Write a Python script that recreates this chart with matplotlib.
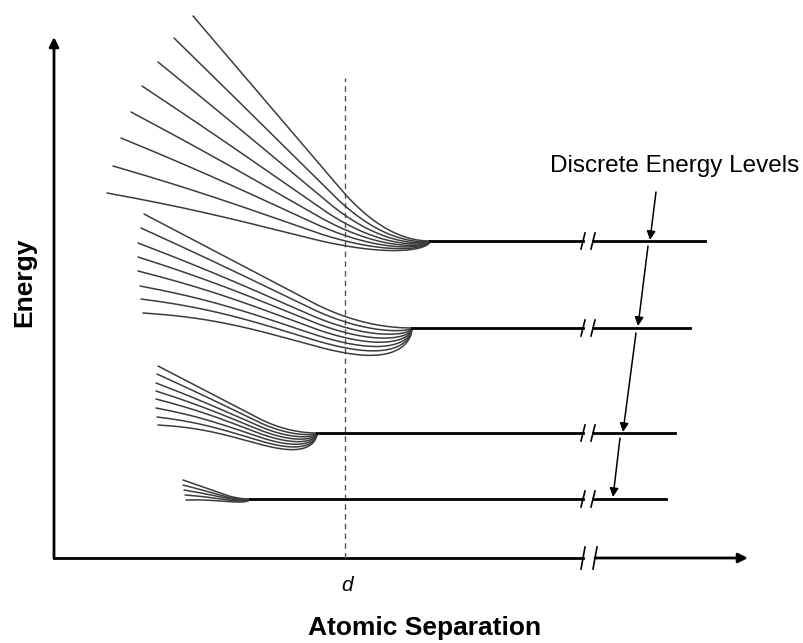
import matplotlib.pyplot as plt
import numpy as np

# energy-band schematic, units: x = atomic separation, E = energy (arbitrary)
level_E = [317, 230, 125, 59]
level_start = [376, 358, 263, 196]    # separation where the band collapses to a level
level_end = [651, 636, 621, 612]
break_x = (529, 539)

band_start_x = [
    [139, 120, 104, 88, 77, 67, 59, 53],
    [90, 87, 84, 84, 84, 86, 87, 89],
    [104, 103, 102, 102, 102, 102, 103, 104],
    [129, 129, 130, 131, 132],
]
band_start_E = [
    [542, 520, 496, 472, 446, 420, 392, 365],
    [344, 330, 315, 301, 287, 272, 259, 245],
    [192, 184, 175, 167, 159, 150, 141, 133],
    [78, 73, 68, 63, 58],
]
band_dip = [11, 28, 17, 3]

d_x = 291
arrow_tails = [(602, 366), (594, 312), (582, 225), (566, 120)]
arrow_heads = [(596, 318), (584, 232), (569, 126), (559, 61)]


def fan_line(x0, e0, xc, ec, dip, knee=0.62, p=2.5):
    u = np.linspace(0, 1, 300)
    # straight run, then a parabola that meets the level flat
    s = 2 / (1 + knee)
    a = 1 - s * knee
    f = np.where(u < knee, 1 - s * u, a * ((1 - u) / (1 - knee))**2)
    # dip below the level that hooks back up at the end
    um = p / (p + 0.5)
    g = u**p * np.sqrt(1 - u) / (um**p * np.sqrt(1 - um))
    x = x0 + u * (xc - x0)
    e = ec + (e0 - ec) * f - dip * g
    return x, e


def break_mark(ax, x, y, h=9):
    ax.plot([x - 2, x + 2], [y - h, y + h], color='k', lw=1.2, zorder=4)


fig = plt.figure(figsize=(8.04, 6.43), dpi=100)
ax = fig.add_axes([0, 0, 1, 1])
ax.set_xlim(-54, 750)
ax.set_ylim(-85, 558)
ax.axis('off')

# axes with arrows
ax.annotate('', xy=(0, 521), xytext=(0, 0),
            arrowprops=dict(arrowstyle='-|>', lw=2, color='k', mutation_scale=14,
                            shrinkA=0, shrinkB=0))
ax.plot([0, 529], [0, 0], color='k', lw=2)
ax.annotate('', xy=(694, 0), xytext=(541, 0),
            arrowprops=dict(arrowstyle='-|>', lw=2, color='k', mutation_scale=14,
                            shrinkA=0, shrinkB=0))
break_mark(ax, 529, 0, 11)
break_mark(ax, 541, 0, 11)

ax.plot([d_x, d_x], [0, 480], color='#555555', lw=1, ls=(0, (4, 3)))

for k in range(len(level_E)):
    n = len(band_start_x[k])
    for i in range(n):
        dip = band_dip[k] * i / (n - 1)
        x, e = fan_line(band_start_x[k][i], band_start_E[k][i],
                        level_start[k], level_E[k], dip)
        ax.plot(x, e, color='#3c3c3c', lw=1.1, solid_capstyle='round')
    ax.plot([level_start[k], break_x[0]], [level_E[k]] * 2, color='k', lw=2)
    ax.plot([break_x[1], level_end[k]], [level_E[k]] * 2, color='k', lw=2)
    break_mark(ax, break_x[0], level_E[k], 8)
    break_mark(ax, break_x[1], level_E[k], 8)

for tail, head in zip(arrow_tails, arrow_heads):
    ax.annotate('', xy=head, xytext=tail,
                arrowprops=dict(arrowstyle='-|>', lw=1.1, color='k', mutation_scale=13,
                                shrinkA=0, shrinkB=0))

ax.text(621, 386, 'Discrete Energy Levels', fontsize=17.5, family='Liberation Sans',
        ha='center', va='baseline')
ax.text(293, -33, 'd', fontsize=15, style='italic', family='Liberation Sans',
        ha='center', va='baseline')
ax.text(371, -77, 'Atomic Separation', fontsize=19, weight='bold', family='Liberation Sans',
        ha='center', va='baseline')
ax.text(-30, 276, 'Energy', fontsize=19, weight='bold', family='Liberation Sans',
        rotation=90, ha='center', va='center')

fig.savefig('out.png', dpi=100, facecolor='white')
